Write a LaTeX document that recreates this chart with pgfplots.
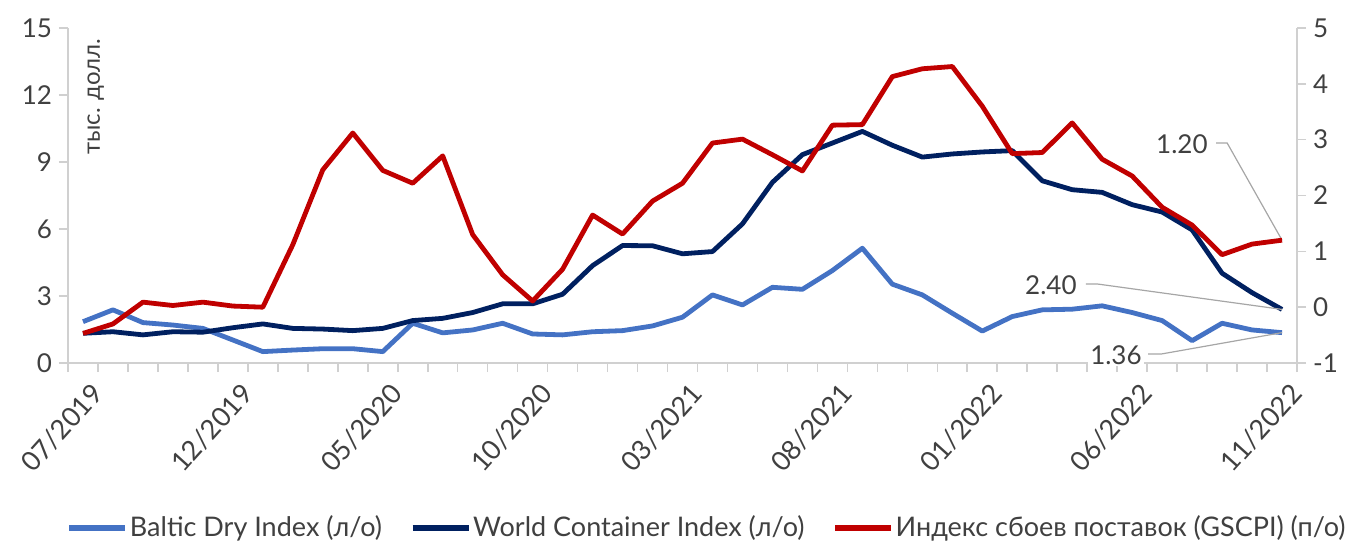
\documentclass[border=0pt]{standalone}
\usepackage{fontspec}
\setmainfont{Lato}
\usepackage{pgfplots}
\usepackage{pgfplotstable}
\pgfplotsset{compat=1.18}

\definecolor{bdi}{HTML}{4472C4}
\definecolor{wci}{HTML}{002060}
\definecolor{gscpi}{HTML}{C00000}
\definecolor{txt}{HTML}{404040}
\definecolor{axln}{HTML}{D0D0D0}
\definecolor{lead}{HTML}{A6A6A6}

% monthly, 07/2019 .. 11/2022
\pgfplotstableread{
i  bdi   wci    gscpi
0  1.85  1.33  -0.47
1  2.38  1.40  -0.30
2  1.81  1.26   0.09
3  1.70  1.40   0.03
4  1.55  1.38   0.09
5  1.03  1.58   0.02
6  0.51  1.75   0.00
7  0.58  1.55   1.12
8  0.64  1.52   2.46
9  0.64  1.45   3.12
10 0.51  1.55   2.45
11 1.78  1.90   2.22
12 1.35  2.00   2.71
13 1.48  2.26   1.30
14 1.78  2.65   0.58
15 1.30  2.65   0.11
16 1.26  3.08   0.68
17 1.40  4.36   1.65
18 1.45  5.26   1.31
19 1.66  5.25   1.90
20 2.05  4.89   2.22
21 3.05  4.99   2.94
22 2.60  6.23   3.01
23 3.39  8.09   2.73
24 3.30  9.33   2.44
25 4.14  9.85   3.26
26 5.14  10.37  3.27
27 3.53  9.75   4.13
28 3.05  9.22   4.27
29 2.23  9.36   4.31
30 1.43  9.45   3.60
31 2.08  9.51   2.75
32 2.38  8.16   2.77
33 2.41  7.76   3.30
34 2.56  7.64   2.65
35 2.26  7.09   2.35
36 1.90  6.76   1.79
37 1.00  5.96   1.47
38 1.78  4.02   0.94
39 1.48  3.15   1.13
40 1.36  2.40   1.20
}\datatable

\pgfplotsset{
  base/.style={
    scale only axis, width=614.5pt, height=167.5pt,
    xmin=-0.5, xmax=40.5,
    tick align=outside,
    axis line style={-, axln, line width=0.8pt},
    every tick/.style={axln, line width=0.8pt},
    tick label style={text=txt, font=\fontsize{13}{15}\selectfont},
    clip=false,
  },
}

\begin{document}
\begin{tikzpicture}
\begin{axis}[base,
  ymin=0, ymax=15,
  axis x line*=bottom, axis y line*=left,
  ytick={0,3,6,9,12,15},
  yticklabels={0,3,6,9,12,15},
  major tick length=4.5pt,
  xtick={0,5,...,40},
  xticklabels={07/2019,12/2019,05/2020,10/2020,03/2021,08/2021,01/2022,06/2022,11/2022},
  major x tick style={draw=none},
  minor xtick={-0.5,0.5,...,40.5},
  minor tick length=4.5pt,
  xticklabel style={rotate=48, anchor=east, font=\fontsize{13.5}{15}\selectfont, inner sep=0pt, xshift=-1pt, yshift=-11pt},
]
\addplot[bdi, line width=2.4pt, line join=round] table[x=i, y=bdi] {\datatable};
\addplot[wci, line width=2.4pt, line join=round] table[x=i, y=wci] {\datatable};

\node[rotate=90, anchor=north east, text=txt, font=\fontsize{12}{14}\selectfont, inner sep=0pt]
  at (rel axis cs:0.0155,0.97) {тыс. долл.};

% callouts for the last values
\draw[lead, line width=0.6pt] (axis cs:37.80,9.85) -- (axis cs:38.17,9.85) -- (axis cs:40,5.50);
\node[text=txt, font=\fontsize{13}{15}\selectfont] at (axis cs:36.66,9.81) {1.20};
\draw[lead, line width=0.6pt] (axis cs:33.46,3.54) -- (axis cs:33.83,3.54) -- (axis cs:40,2.40);
\node[text=txt, font=\fontsize{13}{15}\selectfont] at (axis cs:32.29,3.49) {2.40};
\draw[lead, line width=0.6pt] (axis cs:35.53,0.40) -- (axis cs:35.96,0.40) -- (axis cs:40,1.36);
\node[text=txt, font=\fontsize{13}{15}\selectfont, fill=white, inner sep=1pt] at (axis cs:34.46,0.36) {1.36};
\end{axis}

\begin{axis}[base,
  ymin=-1, ymax=5,
  axis x line=none, axis y line*=right,
  ytick={-1,0,1,2,3,4,5},
  yticklabels={-1,0,1,2,3,4,5},
  major tick length=4.5pt,
  legend style={at={(0.52,-0.4925)}, anchor=center, draw=none, fill=none,
    legend columns=3, font=\fontsize{13.5}{15}\selectfont, text=txt,
    /tikz/every even column/.append style={column sep=13pt},
    nodes={inner xsep=1pt}},
  legend image code/.code={\draw[#1, line width=2.6pt] (0pt,0pt) -- (28pt,0pt);},
]
\addlegendimage{bdi}
\addlegendentry{Baltic Dry Index (л/о)}
\addlegendimage{wci}
\addlegendentry{World Container Index (л/о)}
\addplot[gscpi, line width=2.4pt, line join=round] table[x=i, y=gscpi] {\datatable};
\addlegendentry{Индекс сбоев поставок (GSCPI) (п/о)}
\end{axis}

\pgfresetboundingbox
\useasboundingbox (-34pt,-90pt) rectangle (642pt,181.5pt);
\end{tikzpicture}
\end{document}
